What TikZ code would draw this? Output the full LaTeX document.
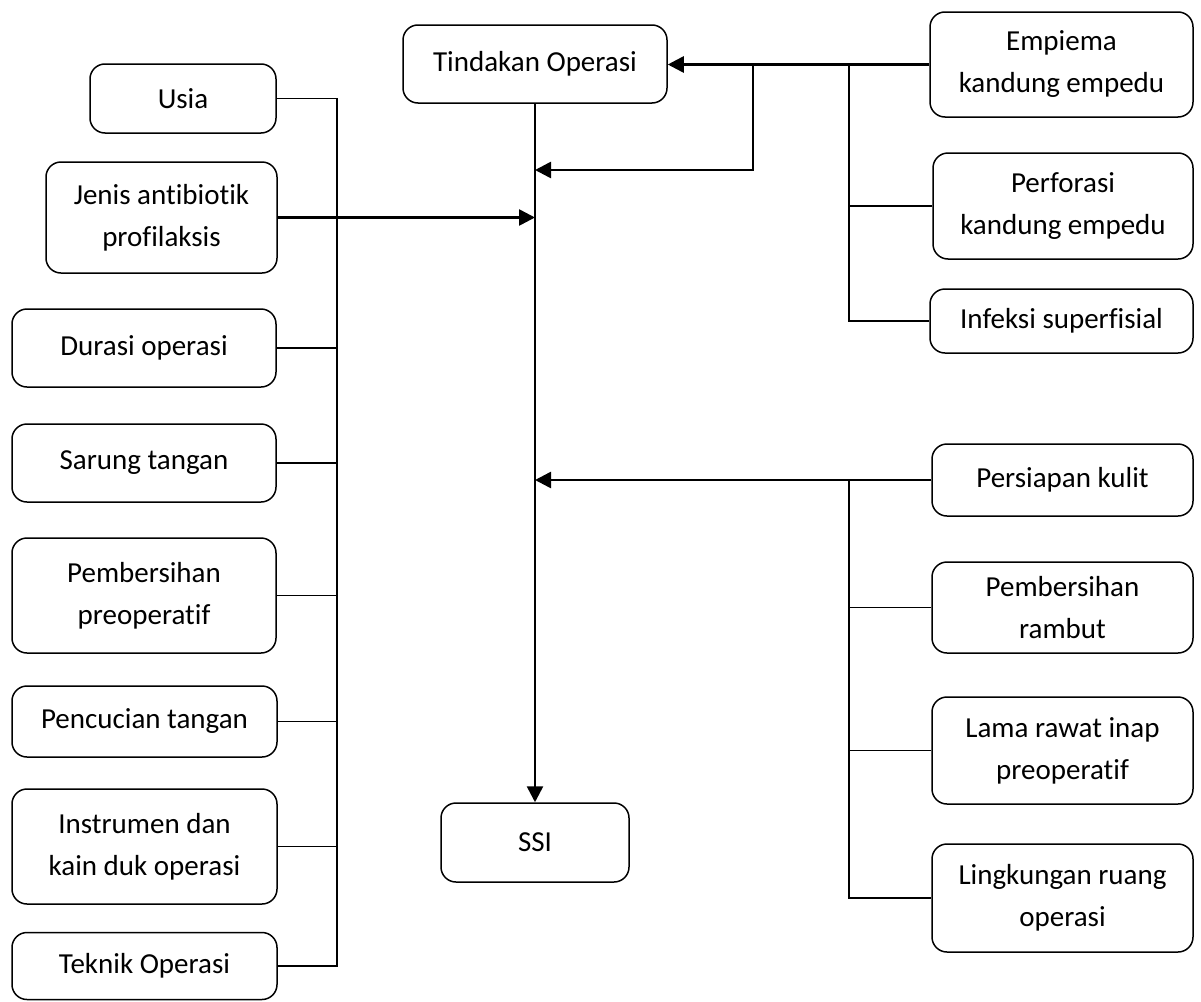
\documentclass[tikz,border=0pt]{standalone}
\usepackage{fontspec}
\setmainfont{Carlito}[Ligatures=NoCommon]
\usetikzlibrary{arrows.meta}
\begin{document}
\begin{tikzpicture}[x=1pt,y=-1pt,
  box/.style={draw=black, line width=1.5pt, rounded corners=15pt, align=center,
    inner sep=0pt, font=\fontsize{29}{42}\selectfont},
  ln/.style={draw=black, line width=1.6pt},
  arr/.style={draw=black, line width=2.6pt, -{Triangle[length=16pt,width=16pt]}}]
\useasboundingbox (0,0) rectangle (1201,1001);
% left column
\node[box, minimum width=186pt, minimum height=69pt] (usia) at (183,98.5) {Usia};
\node[box, minimum width=231pt, minimum height=111pt] (jenis) at (161.5,217.5) {Jenis antibiotik\\profilaksis};
\node[box, minimum width=264pt, minimum height=78pt] (durasi) at (144,348) {Durasi operasi};
\node[box, minimum width=264pt, minimum height=78pt] (sarung) at (144,463) {Sarung tangan};
\node[box, minimum width=264pt, minimum height=115pt] (pemb) at (144,595.5) {Pembersihan\\preoperatif};
\node[box, minimum width=265pt, minimum height=71pt] (cuci) at (144.5,721.5) {Pencucian tangan};
\node[box, minimum width=265pt, minimum height=115pt] (instr) at (144.5,846.5) {Instrumen dan\\kain duk operasi};
\node[box, minimum width=265pt, minimum height=67pt] (teknik) at (144.5,966) {Teknik Operasi};
% centre
\node[box, minimum width=264pt, minimum height=78pt] (tind) at (535,64) {Tindakan Operasi};
\node[box, minimum width=188pt, minimum height=79pt] (ssi) at (535,842.5) {SSI};
% right column
\node[box, minimum width=263pt, minimum height=105pt] (emp) at (1061.5,64.5) {Empiema\\kandung empedu};
\node[box, minimum width=260pt, minimum height=106pt] (perf) at (1063,206) {Perforasi\\kandung empedu};
\node[box, minimum width=263pt, minimum height=64pt] (inf) at (1061.5,321) {Infeksi superfisial};
\node[box, minimum width=261pt, minimum height=72pt] (kulit) at (1062.5,480) {Persiapan kulit};
\node[box, minimum width=261pt, minimum height=91pt] (rambut) at (1062.5,607.5) {Pembersihan\\rambut};
\node[box, minimum width=261pt, minimum height=107pt] (lama) at (1062.5,750.5) {Lama rawat inap\\preoperatif};
\node[box, minimum width=261pt, minimum height=108pt] (lingk) at (1062.5,898) {Lingkungan ruang\\operasi};
% helper coordinates
\coordinate (brk) at (337,0);
\coordinate (rb) at (849,0);
\coordinate (lp) at (753,0);
\coordinate (j1) at (535,170);
% left bracket
\draw[ln] (usia.east) -- (usia.east -| brk) |- (teknik.east);
\foreach \n in {durasi,sarung,pemb,cuci,instr} \draw[ln] (\n.east) -- (\n.east -| brk);
\draw[arr] (jenis.east) -- (jenis.east -| tind.south);
% main line
\draw[arr] (tind.south) -- (ssi.north);
% top right
\draw[arr] (emp.west) -- (emp.west -| tind.east);
\draw[ln] (emp.west -| rb) |- (inf.west);
\draw[ln] (perf.west) -- (perf.west -| rb);
\draw[arr] (emp.west -| lp) |- (j1);
% lower right
\draw[arr] (kulit.west) -- (kulit.west -| tind.south);
\draw[ln] (kulit.west -| rb) |- (lingk.west);
\foreach \n in {rambut,lama} \draw[ln] (\n.west) -- (\n.west -| rb);
\end{tikzpicture}
\end{document}
